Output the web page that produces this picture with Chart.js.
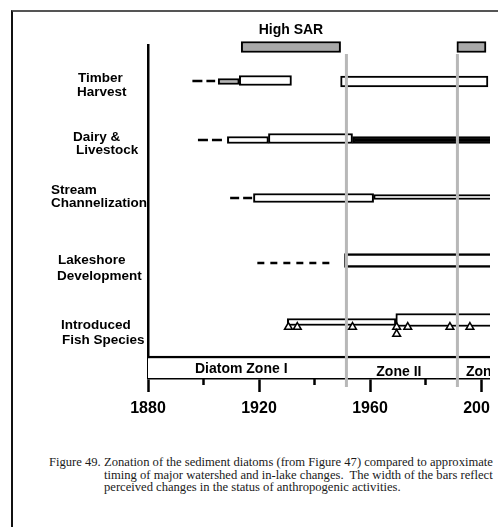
<!DOCTYPE html>
<html>
<head>
<meta charset="utf-8">
<script src="https://cdn.jsdelivr.net/npm/chart.js@4.4.1/dist/chart.umd.min.js"></script>
<style>
  html, body { margin: 0; padding: 0; background: #fff; }
  body { width: 498px; height: 527px; position: relative; overflow: hidden; }
  #frame { position: absolute; left: 11px; top: 10px; right: -4px; bottom: -4px; border-left: 2px solid #111; border-top: 2px solid #555; }
  #plot { position: absolute; left: 0; top: 0; width: 490px; height: 430px; overflow: hidden; }
  .caption { position: absolute; top: 456px; font-family: "Liberation Serif", "Times New Roman", serif; font-size: 12.6px; line-height: 12.5px; color: #1a1a1a; white-space: nowrap; }
</style>
</head>
<body>
<div id="frame"></div>
<div id="plot"><canvas id="zonation" width="497" height="430"></canvas></div>
<div class="caption" style="left:49px">Figure 49.</div>
<div class="caption" style="left:104px">Zonation of the sediment diatoms (from Figure 47) compared to approximate<br>timing of major watershed and in-lake changes.&nbsp; The width of the bars reflect<br>perceived changes in the status of anthropogenic activities.</div>
<script>
// time axis
const yearMin = 1880;
const yearMax = 2003.6;
const yearTicks = [1880, 1900, 1920, 1940, 1960, 1980, 2000];
const labelledYears = [1880, 1920, 1960, 2000];

const activities = [
  ['Timber', 'Harvest'],
  ['Dairy &', 'Livestock'],
  ['Stream', 'Channelization'],
  ['Lakeshore', 'Development'],
  ['Introduced', 'Fish Species']
];

// periods of high sediment accumulation
const highSar = [[1913.6, 1949.4], [1991.3, 2001.8]];

// dashed = uncertain early activity, bars = activity level through time
const timberDashed = [1896, 1904.2];
const timberBars = [[1905.3, 1912.9], [1912.9, 1931.7], [1949.4, 2002.5]];
const dairyDashed = [1898, 1906.7];
const dairyBars = [[1908.6, 1923.4], [1923.4, 1953.7], [1953.7, 2010]];
const streamDashed = [1909.6, 1917.6];
const streamBars = [[1918, 1961.3], [1961.3, 2010]];
const lakeDashed = [1919.4, 1945.8];
const lakeBars = [[1950.8, 2010]];
const fishBars = [[1930.2, 1969.3], [1969.3, 2010]];
const fishRecords = [1930.6, 1933.8, 1953.7, 1969.6, 1969.6, 1973.6, 1988.8, 1996];

// diatom zones
const zoneBreaks = [1951.5, 1991.5];
const zoneNames = ['Diatom Zone I', 'Zone II', 'Zone III'];
const zoneLabelYears = [1913.6, 1970.4, 2003.4];

// ---- layout (y scale runs 0..333 from the top of the plot) ----
const lane = { sarText: -15, sar: 2, timber: 36, dairy: 95, stream: 153, lake: 218, fish: 277, zone: 322, zoneText: [324, 327, 327] };
const recordLanes = [282, 282, 282, 282, 289, 282, 282, 282];
const labelX = [[78, 77], [73, 76], [51, 51], [58, 57], [61, 62]];
const labelLanes = [[33, 47], [92, 105], [145, 158], [215, 231], [280, 295]];

const SANS = '"Liberation Sans", Arial, sans-serif';

function bar(span, y, size, extra) {
  return Object.assign({
    type: 'bar',
    indexAxis: 'y',
    data: [{ x: span, y: y }],
    barThickness: size,
    grouped: false,
    backgroundColor: '#fff',
    borderColor: '#000',
    borderWidth: 2,
    borderSkipped: false,
    clip: false,
    order: 3
  }, extra || {});
}

function dashes(span, y, dash) {
  return {
    type: 'line',
    data: [{ x: span[0], y: y }, { x: span[1], y: y }],
    borderColor: '#000',
    borderWidth: 2.5,
    borderDash: dash,
    borderCapStyle: 'butt',
    pointRadius: 0,
    clip: false,
    order: 3
  };
}

var datasets = [];

highSar.forEach(function (s) {
  datasets.push(bar(s, lane.sar, 11, { backgroundColor: '#a9a9a9' }));
});

datasets.push(dashes(timberDashed, lane.timber, [10, 4]));
datasets.push(bar(timberBars[0], lane.timber + 0.5, 6, { backgroundColor: '#b4b4b4' }));
datasets.push(bar(timberBars[1], lane.timber - 0.5, 10));
datasets.push(bar(timberBars[2], lane.timber + 0.5, 11));

datasets.push(dashes(dairyDashed, lane.dairy, [10, 4]));
datasets.push(bar(dairyBars[0], lane.dairy, 7));
datasets.push(bar(dairyBars[1], lane.dairy - 1.5, 10));
datasets.push(bar(dairyBars[2], lane.dairy, 7, { backgroundColor: '#000' }));

datasets.push(dashes(streamDashed, lane.stream, [9, 4]));
datasets.push(bar(streamBars[0], lane.stream, 9));
datasets.push(bar(streamBars[1], lane.stream - 1, 5));

datasets.push(dashes(lakeDashed, lane.lake, [7, 6]));
datasets.push(bar(lakeBars[0], lane.lake - 2.5, 14, { borderWidth: { top: 2.5, bottom: 2.5, left: 1, right: 0 } }));

datasets.push(bar(fishBars[0], lane.fish, 7));
datasets.push(bar(fishBars[1], lane.fish - 2, 13));

// zone band sits on the time axis
datasets.push(bar([yearMin, 2010], lane.zone, 22, { borderWidth: { top: 2.5, bottom: 0, left: 0, right: 0 } }));

// zone boundaries
zoneBreaks.forEach(function (yr) {
  datasets.push({
    type: 'line',
    data: [{ x: yr, y: 9 }, { x: yr, y: 342 }],
    borderColor: '#b8b8b8',
    borderWidth: 3,
    pointRadius: 0,
    clip: false,
    order: 2
  });
});

datasets.push({
  type: 'scatter',
  data: fishRecords.map(function (yr, i) { return { x: yr, y: recordLanes[i] }; }),
  pointStyle: 'triangle',
  pointRadius: 4.5,
  backgroundColor: '#fff',
  borderColor: '#000',
  borderWidth: 1.5,
  clip: false,
  order: 1
});

const zonationText = {
  id: 'zonationText',
  beforeDraw(chart) {
    const ctx = chart.ctx, ys = chart.scales.y;
    ctx.save();
    ctx.fillStyle = '#000';
    ctx.font = 'bold 13.5px ' + SANS;
    ctx.textAlign = 'left';
    ctx.textBaseline = 'middle';
    activities.forEach(function (lines, i) {
      lines.forEach(function (t, j) {
        ctx.fillText(t, labelX[i][j], ys.getPixelForValue(labelLanes[i][j]));
      });
    });
    ctx.restore();
  },
  afterDraw(chart) {
    const ctx = chart.ctx, xs = chart.scales.x, ys = chart.scales.y;
    ctx.save();
    ctx.fillStyle = '#000';
    ctx.font = 'bold 14px ' + SANS;
    ctx.textAlign = 'center';
    ctx.textBaseline = 'middle';
    ctx.fillText('High SAR', xs.getPixelForValue((highSar[0][0] + highSar[0][1]) / 2), ys.getPixelForValue(lane.sarText));
    zoneNames.forEach(function (name, i) {
      ctx.fillText(name, xs.getPixelForValue(zoneLabelYears[i]), ys.getPixelForValue(lane.zoneText[i]));
    });
    // short ticks between the labelled years
    ctx.strokeStyle = '#000';
    ctx.lineWidth = 2.5;
    yearTicks.forEach(function (yr) {
      if (labelledYears.indexOf(yr) >= 0) return;
      const x = xs.getPixelForValue(yr);
      ctx.beginPath();
      ctx.moveTo(x, chart.chartArea.bottom);
      ctx.lineTo(x, chart.chartArea.bottom + 7);
      ctx.stroke();
    });
    ctx.restore();
  }
};

new Chart(document.getElementById('zonation'), {
  type: 'bar',
  data: { datasets: datasets },
  options: {
    indexAxis: 'y',
    responsive: false,
    animation: false,
    devicePixelRatio: 1,
    layout: { padding: { top: 45, left: 0, right: 0, bottom: 0 } },
    plugins: { legend: { display: false }, tooltip: { enabled: false } },
    scales: {
      x: {
        type: 'linear',
        min: yearMin,
        max: yearMax,
        offset: false,
        border: { display: true, color: '#000', width: 2.5 },
        grid: {
          display: true,
          drawOnChartArea: false,
          drawTicks: true,
          tickLength: 14,
          tickWidth: 2.5,
          tickColor: function (c) {
            return c.tick && labelledYears.indexOf(c.tick.value) >= 0 ? '#000' : 'rgba(0,0,0,0)';
          }
        },
        afterBuildTicks: function (scale) {
          scale.ticks = yearTicks.map(function (v) { return { value: v }; });
        },
        ticks: {
          autoSkip: false,
          maxRotation: 0,
          padding: 7,
          color: '#000',
          font: { family: SANS, size: 16, weight: 'bold' },
          callback: function (v) { return labelledYears.indexOf(v) >= 0 ? String(v) : ''; }
        },
        afterFit: function (scale) {
          scale.height = 52;
          scale.paddingLeft = 0;
          scale.paddingRight = 0;
        }
      },
      y: {
        type: 'linear',
        min: 0,
        max: 333,
        reverse: true,
        offset: false,
        border: { display: true, color: '#000', width: 2.5 },
        grid: { display: false, offset: false },
        ticks: { display: false },
        afterFit: function (scale) {
          scale.width = 148;
          scale.paddingTop = 0;
          scale.paddingBottom = 0;
        }
      }
    }
  },
  plugins: [zonationText]
});
</script>
</body>
</html>
